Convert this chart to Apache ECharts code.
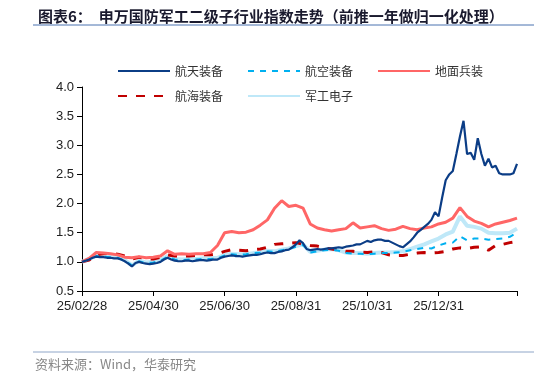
<!DOCTYPE html>
<html><head><meta charset="utf-8">
<script src="https://cdn.jsdelivr.net/npm/echarts@6/dist/echarts.min.js"></script>
<style>html,body{margin:0;padding:0;background:#fff}#c{width:534px;height:378px}</style>
</head><body><div id="c"></div>
<script>
// x positions are trading-period indices; ticks every 10 units
const tickLabels = ['25/02/28','25/04/30','25/06/30','25/08/31','25/10/31','25/12/31'];
const tickIdx = [0,10,20,30,40,50];
const lastIdx = 61;

// 航天装备 (half-step resolution)
const hangtian = [1.00,1.02,1.04,1.07,1.09,1.08,1.08,1.07,1.07,1.06,1.06,1.04,1.01,0.97,0.92,0.98,1.00,0.98,0.97,0.96,
0.97,0.98,1.00,1.04,1.07,1.04,1.02,1.01,1.01,1.02,1.02,1.01,1.02,1.03,1.03,1.02,1.03,1.04,1.04,1.07,
1.09,1.10,1.11,1.10,1.10,1.09,1.10,1.11,1.12,1.12,1.13,1.15,1.16,1.15,1.15,1.17,1.18,1.20,1.21,1.25,
1.30,1.37,1.32,1.22,1.20,1.21,1.22,1.21,1.22,1.23,1.23,1.24,1.25,1.24,1.26,1.27,1.28,1.30,1.30,1.33,
1.36,1.34,1.37,1.38,1.38,1.36,1.36,1.33,1.30,1.27,1.25,1.30,1.35,1.42,1.50,1.55,1.60,1.65,1.72,1.85,
1.78,2.10,2.40,2.50,2.56,2.85,3.15,3.42,2.85,2.87,2.75,3.12,2.85,2.65,2.77,2.62,2.65,2.52,2.50,2.50,
2.50,2.52,2.68];
// 航空装备
const hangkong = [1.00,1.04,1.10,1.09,1.08,1.07,1.02,0.94,1.01,0.98,0.99,1.02,1.09,1.04,1.03,1.04,1.04,1.05,1.05,1.06,
1.11,1.13,1.12,1.13,1.15,1.16,1.18,1.17,1.20,1.22,1.26,1.29,1.16,1.18,1.20,1.21,1.19,1.15,1.14,1.14,
1.13,1.14,1.15,1.15,1.16,1.17,1.20,1.22,1.24,1.23,1.28,1.32,1.33,1.44,1.37,1.40,1.40,1.38,1.39,1.40,
1.43,1.50];
// 地面兵装
const dimian = [1.00,1.06,1.16,1.15,1.14,1.12,1.08,1.07,1.09,1.07,1.08,1.10,1.19,1.13,1.14,1.13,1.14,1.14,1.16,1.28,
1.50,1.52,1.50,1.51,1.55,1.63,1.72,1.92,2.05,1.95,1.97,1.92,1.65,1.58,1.55,1.53,1.55,1.57,1.67,1.58,
1.60,1.62,1.57,1.54,1.56,1.61,1.57,1.55,1.58,1.60,1.65,1.68,1.75,1.93,1.78,1.70,1.66,1.60,1.65,1.68,
1.71,1.75];
// 航海装备
const hanghai = [1.00,1.03,1.12,1.14,1.15,1.13,1.10,1.05,1.08,1.05,1.05,1.08,1.12,1.10,1.10,1.10,1.11,1.12,1.12,1.14,
1.18,1.21,1.20,1.19,1.21,1.22,1.25,1.30,1.31,1.32,1.33,1.30,1.28,1.27,1.24,1.22,1.20,1.18,1.18,1.17,
1.16,1.17,1.16,1.12,1.11,1.11,1.13,1.15,1.16,1.15,1.16,1.18,1.22,1.24,1.23,1.25,1.26,1.20,1.28,1.30,
1.33,1.35];
// 军工电子
const jungong = [1.00,1.05,1.11,1.10,1.09,1.08,1.03,0.94,1.02,0.99,1.00,1.03,1.10,1.05,1.04,1.05,1.05,1.06,1.06,1.07,
1.12,1.14,1.13,1.13,1.15,1.16,1.19,1.18,1.21,1.23,1.27,1.30,1.17,1.19,1.21,1.22,1.20,1.16,1.15,1.15,
1.14,1.15,1.16,1.16,1.17,1.18,1.22,1.26,1.30,1.35,1.40,1.47,1.52,1.78,1.62,1.60,1.57,1.50,1.49,1.49,
1.50,1.57];

const toPts = (arr, step) => arr.map((v, i) => [i * step, v]);

const chart = echarts.init(document.getElementById('c'), null, {renderer: 'canvas'});
const cjk = '"Noto Sans CJK SC", sans-serif';
const lat = '"Liberation Sans", Arial, sans-serif';
const legendText = {fontFamily: cjk, fontSize: 12, color: '#333'};
const legendCommon = {left: 112, itemWidth: 52, itemHeight: 14, itemGap: 24, textStyle: legendText,
  itemStyle: {opacity: 0, borderWidth: 0}};

chart.setOption({
  animation: false,
  backgroundColor: '#fff',
  title: {
    text: '图表6：  申万国防军工二级子行业指数走势（前推一年做归一化处理）',
    left: 33, top: 4,
    textStyle: {fontFamily: cjk, fontSize: 15, fontWeight: 'bold', color: '#1a1a2e'}
  },
  graphic: [
    {type: 'line', shape: {x1: 33, y1: 25, x2: 534, y2: 25}, style: {stroke: '#4a72b0', lineWidth: 1}},
    {type: 'line', shape: {x1: 33, y1: 352, x2: 534, y2: 352}, style: {stroke: '#8fa6c8', lineWidth: 1}},
    {type: 'text', left: 35, top: 358, style: {text: '资料来源：Wind，华泰研究', fontFamily: cjk, fontSize: 13, fill: '#888'}}
  ],
  legend: [
    Object.assign({data: ['航天装备', '航空装备', '地面兵装'], top: 60}, legendCommon),
    Object.assign({data: ['航海装备', '军工电子'], top: 85}, legendCommon)
  ],
  grid: {left: 82, right: 17, top: 87, bottom: 87},
  xAxis: {
    type: 'value', min: 0, max: lastIdx, interval: 10,
    splitLine: {show: false},
    axisLine: {lineStyle: {color: '#000', width: 1}},
    axisTick: {show: true, length: 5, inside: false, customValues: tickIdx.concat([lastIdx]), lineStyle: {color: '#000'}},
    axisLabel: {
      customValues: tickIdx,
      formatter: v => { const k = tickIdx.indexOf(v); return k >= 0 ? tickLabels[k] : ''; },
      fontFamily: lat, fontSize: 13, color: '#222', margin: 9
    }
  },
  yAxis: {
    type: 'value', min: 0.5, max: 4, interval: 0.5,
    splitLine: {show: false},
    axisLine: {show: true, lineStyle: {color: '#000', width: 1}},
    axisTick: {show: true, length: 5, lineStyle: {color: '#000'}},
    axisLabel: {formatter: v => v.toFixed(1), fontFamily: lat, fontSize: 13, color: '#222', margin: 8}
  },
  series: [
    {name: '军工电子', type: 'line', data: toPts(jungong, 1), showSymbol: false, symbol: 'none', z: 1,
     lineStyle: {color: '#bfe8f8', width: 4}, itemStyle: {color: '#bfe8f8'}},
    {name: '航海装备', type: 'line', data: toPts(hanghai, 1), showSymbol: false, symbol: 'none', z: 2,
     lineStyle: {color: '#c00000', width: 3, type: [9, 9]}, itemStyle: {color: '#c00000'}},
    {name: '航空装备', type: 'line', data: toPts(hangkong, 1), showSymbol: false, symbol: 'none', z: 3,
     lineStyle: {color: '#00b0f0', width: 2, type: [6, 6]}, itemStyle: {color: '#00b0f0'}},
    {name: '地面兵装', type: 'line', data: toPts(dimian, 1), showSymbol: false, symbol: 'none', z: 4,
     lineStyle: {color: '#ff6666', width: 3}, itemStyle: {color: '#ff6666'}},
    {name: '航天装备', type: 'line', data: toPts(hangtian, 0.5), showSymbol: false, symbol: 'none', z: 5,
     lineStyle: {color: '#0b3d86', width: 2.2}, itemStyle: {color: '#0b3d86'}}
  ]
});
</script></body></html>
